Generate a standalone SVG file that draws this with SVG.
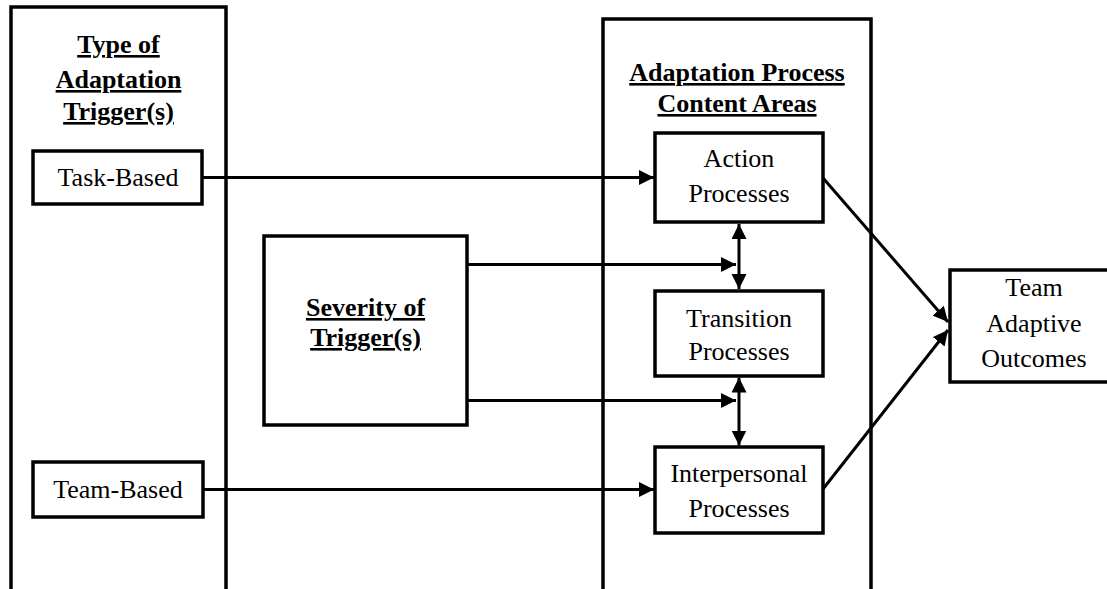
<svg xmlns="http://www.w3.org/2000/svg" width="1107" height="589" viewBox="0 0 1107 589">
  <style>
    .box { fill: #fff; stroke: #000; stroke-width: 3.5; }
    .frame { fill: none; stroke: #000; stroke-width: 3.5; }
    .lbl { font-size: 26px; fill: #000; text-anchor: middle; }
    .head { font-weight: bold; text-decoration: underline; text-decoration-thickness: 2px; text-underline-offset: 3px; }
    .conn { fill: none; stroke: #000; stroke-width: 3; }
  </style>
  <defs>
    <marker id="arrow" markerUnits="userSpaceOnUse" markerWidth="16" markerHeight="16" refX="15" refY="7.5" orient="auto-start-reverse">
      <path d="M0,0 L15,7.5 L0,15 z" fill="#000"/>
    </marker>
  </defs>

  <rect width="1107" height="589" fill="#fff"/>

  <g font-family="'Liberation Serif', 'Times New Roman', 'DejaVu Serif', serif">
  <!-- left column: trigger types -->
  <g id="trigger-types">
    <rect class="frame" x="11" y="7" width="215" height="600"/>
    <text class="lbl head" x="118.5" y="53">Type of</text>
    <text class="lbl head" x="118.5" y="88">Adaptation</text>
    <text class="lbl head" x="118.5" y="120">Trigger(s)</text>
  </g>

  <!-- right column: process content areas -->
  <g id="content-areas">
    <rect class="frame" x="603" y="19" width="268" height="600"/>
    <text class="lbl head" x="737" y="81">Adaptation Process</text>
    <text class="lbl head" x="737" y="112">Content Areas</text>
  </g>

  <!-- connectors -->
  <g id="connectors">
    <line class="conn" x1="202" y1="177.5" x2="654" y2="177.5" marker-end="url(#arrow)"/>
    <line class="conn" x1="203" y1="489.5" x2="654" y2="489.5" marker-end="url(#arrow)"/>
    <line class="conn" x1="467" y1="264.5" x2="736" y2="264.5" marker-end="url(#arrow)"/>
    <line class="conn" x1="467" y1="400.5" x2="736" y2="400.5" marker-end="url(#arrow)"/>
    <line class="conn" x1="739" y1="224" x2="739" y2="289" marker-start="url(#arrow)" marker-end="url(#arrow)"/>
    <line class="conn" x1="739" y1="377.5" x2="739" y2="445.5" marker-start="url(#arrow)" marker-end="url(#arrow)"/>
    <line class="conn" x1="823" y1="178" x2="948" y2="322" marker-end="url(#arrow)"/>
    <line class="conn" x1="823" y1="489" x2="948" y2="330" marker-end="url(#arrow)"/>
  </g>

  <g id="task-based">
    <rect class="box" x="33" y="151" width="169" height="53"/>
    <text class="lbl" x="118" y="186">Task-Based</text>
  </g>

  <g id="team-based">
    <rect class="box" x="33" y="462" width="170" height="55"/>
    <text class="lbl" x="118" y="498">Team-Based</text>
  </g>

  <g id="severity">
    <rect class="box" x="264" y="236" width="203" height="189"/>
    <text class="lbl head" x="365.5" y="316">Severity of</text>
    <text class="lbl head" x="365.5" y="346">Trigger(s)</text>
  </g>

  <g id="action">
    <rect class="box" x="655" y="133" width="168" height="89"/>
    <text class="lbl" x="739" y="167">Action</text>
    <text class="lbl" x="739" y="202">Processes</text>
  </g>

  <g id="transition">
    <rect class="box" x="655" y="291" width="168" height="85"/>
    <text class="lbl" x="739" y="327">Transition</text>
    <text class="lbl" x="739" y="360">Processes</text>
  </g>

  <g id="interpersonal">
    <rect class="box" x="655" y="447" width="168" height="86"/>
    <text class="lbl" x="739" y="482">Interpersonal</text>
    <text class="lbl" x="739" y="517">Processes</text>
  </g>

  <g id="outcomes">
    <rect class="box" x="950" y="270" width="170" height="112"/>
    <text class="lbl" x="1034" y="296">Team</text>
    <text class="lbl" x="1034" y="332">Adaptive</text>
    <text class="lbl" x="1034" y="367">Outcomes</text>
  </g>
  </g>
</svg>
